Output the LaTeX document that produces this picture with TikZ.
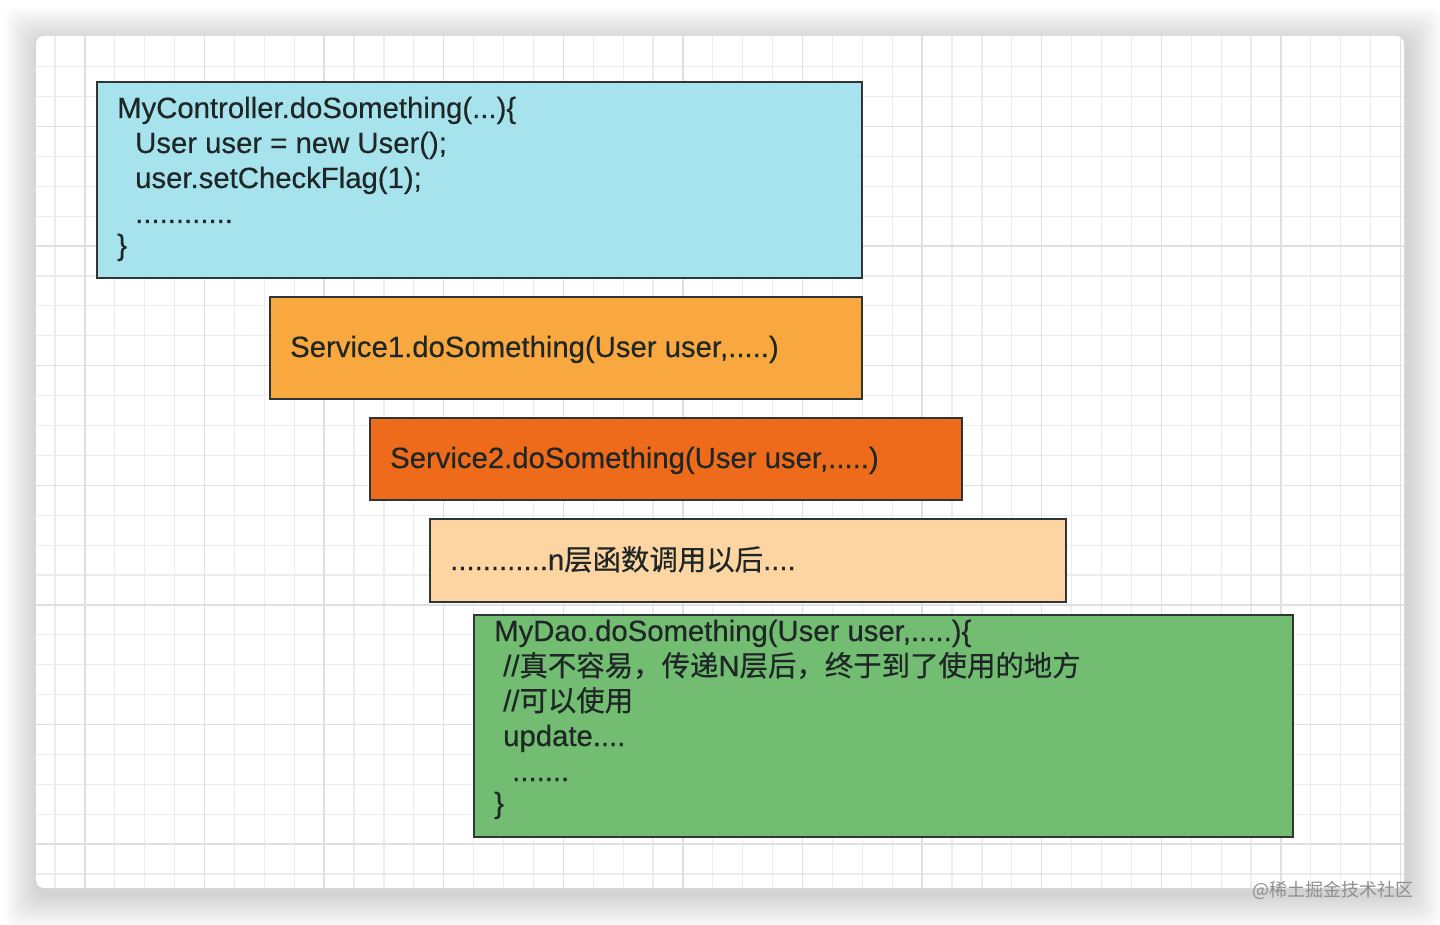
\documentclass[tikz,border=0pt]{standalone}
\usepackage{fontspec}
\setmainfont[FakeBold=0.35]{Liberation Sans}
\newfontfamily\cjk[FakeBold=0.5,Scale=0.97]{Noto Sans CJK SC}
\newfontfamily\cjkwm{Noto Sans CJK SC}
\definecolor{bluefill}{HTML}{A7E3ED}
\definecolor{orangefill}{HTML}{F9A83F}
\definecolor{darkorangefill}{HTML}{EE6B1C}
\definecolor{peachfill}{HTML}{FCD5A3}
\definecolor{greenfill}{HTML}{72BD71}
\definecolor{boxline}{HTML}{2E3535}
\definecolor{textc}{HTML}{1E2626}
\definecolor{gridminor}{HTML}{ECECEC}
\definecolor{gridmajor}{HTML}{E0E0E0}
\definecolor{wmark}{HTML}{8E8E8E}
\begin{document}
\begin{tikzpicture}[x=1pt,y=-1pt,
  font=\fontsize{29.3}{35}\selectfont,
  box/.style={draw=boxline, line width=1.6pt},
  txt/.style={anchor=base west, inner sep=0pt, text=textc},
  minorline/.style={draw=gridminor, line width=1.2pt},
  majorline/.style={draw=gridmajor, line width=1.3pt}]
\useasboundingbox (0,0) rectangle (1440,925);
\fill[white] (0,0) rectangle (1440,925);
% soft shadow of the card
\foreach \i in {1,...,22}{
  \pgfmathsetmacro\d{\i*1.6}
  \fill[black, opacity=0.0085, rounded corners=12pt]
    (36-\d+3,36-\d+6) rectangle (1404+\d+3,888+\d+6);
}
% card
\fill[white, rounded corners=8pt] (36,36) rectangle (1404,888);
\begin{scope}
  \clip[rounded corners=8pt] (36,36) rectangle (1404,888);
  \foreach \k in {0,...,45}{
    \pgfmathsetmacro\xx{55+29.9*\k}
    \draw[minorline] (\xx,36) -- (\xx,888);
  }
  \foreach \k in {0,...,27}{
    \pgfmathsetmacro\yy{66.7+29.9*\k}
    \draw[minorline] (36,\yy) -- (1404,\yy);
  }
  \foreach \k in {1,5,...,45}{
    \pgfmathsetmacro\xx{55+29.9*\k}
    \draw[majorline] (\xx,36) -- (\xx,888);
  }
  \foreach \k in {2,6,...,26}{
    \pgfmathsetmacro\yy{66.7+29.9*\k}
    \draw[majorline] (36,\yy) -- (1404,\yy);
  }
\end{scope}
% boxes
\path[box, fill=bluefill] (97,82) rectangle (862,278);
\path[box, fill=orangefill] (270,297) rectangle (862,399);
\path[box, fill=darkorangefill] (370,418) rectangle (962,500);
\path[box, fill=peachfill] (430,519) rectangle (1066,602);
\path[box, fill=greenfill] (474,615) rectangle (1293,837);
% controller box text
\node[txt] (c1) at (117,118) {MyController.doSomething(...)\{};
\node[txt] (c2) at (135,153) {User user = new User();};
\node[txt] (c3) at (135,188) {user.setCheckFlag(1);};
\node[txt] (c4) at (135,223) {............};
\node[txt] (c5) at (117,255) {\}};
% service boxes
\node[txt] (s1) at (290,357) {Service1.doSomething(User user,.....)};
\node[txt] (s2) at (390,468) {Service2.doSomething(User user,.....)};
\node[txt] (s3) at (450,570) {............n{\cjk 层函数调用以后}....};
% dao box text
\node[txt] (d1) at (494,641) {MyDao.doSomething(User user,.....)\{};
\node[txt] (d2) at (503,676) {//{\cjk 真不容易，传递}N{\cjk 层后，终于到了使用的地方}};
\node[txt] (d3) at (503,711) {//{\cjk 可以使用}};
\node[txt] (d4) at (503,746) {update....};
\node[txt] (d5) at (512,781) {.......};
\node[txt] (d6) at (494,813) {\}};
% watermark
\node[anchor=base east, inner sep=0pt, text=wmark, font=\fontsize{18}{18}\selectfont\cjkwm] (wm) at (1414,896) {@稀土掘金技术社区};
\end{tikzpicture}
\end{document}
